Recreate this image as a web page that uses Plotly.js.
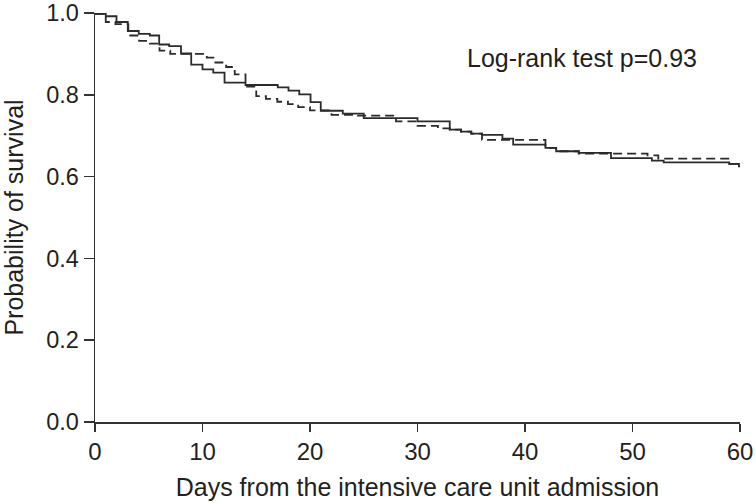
<!DOCTYPE html>
<html>
<head>
<meta charset="utf-8">
<script src="https://cdn.plot.ly/plotly-3.0.1.min.js"></script>
<style>html,body{margin:0;padding:0;background:#fff;}#chart{width:756px;height:503px;}</style>
</head>
<body>
<div id="chart"></div>
<script>
// Group A (solid line): step times (days) and survival probability
const solidDays = [0, 1.0, 2.0, 3.05, 4.07, 5.1, 5.97, 6.9, 8.0, 8.95, 10.0, 11.0, 12.05, 14.0, 17.0, 18.0, 19.0, 20.05, 21.0, 23.05, 25.0, 30.0, 33.0, 34.05, 35.0, 36.0, 37.9, 38.9, 41.9, 42.9, 45.0, 48.0, 51.8, 52.9, 59.0, 59.9, 60];
const solidSurv = [0.998, 0.992, 0.978, 0.956, 0.949, 0.945, 0.923, 0.919, 0.901, 0.874, 0.862, 0.854, 0.830, 0.824, 0.818, 0.810, 0.801, 0.782, 0.761, 0.754, 0.743, 0.735, 0.715, 0.710, 0.705, 0.702, 0.693, 0.678, 0.670, 0.662, 0.658, 0.645, 0.639, 0.635, 0.631, 0.625, 0.625];

// Group B (dashed line)
const dashDays = [0, 1.0, 1.9, 3.1, 4.1, 5.1, 6.0, 7.0, 10.4, 11.2, 12.2, 13.0, 14.0, 15.0, 15.9, 16.96, 17.95, 18.9, 20.0, 22.0, 24.1, 28.0, 30.0, 31.9, 33.0, 34.05, 35.0, 36.0, 41.9, 42.9, 45.0, 51.4, 52.4, 59.0, 59.9, 60];
const dashSurv = [0.998, 0.978, 0.973, 0.945, 0.932, 0.925, 0.908, 0.900, 0.891, 0.879, 0.868, 0.850, 0.820, 0.797, 0.790, 0.783, 0.777, 0.770, 0.762, 0.751, 0.749, 0.735, 0.724, 0.718, 0.715, 0.710, 0.705, 0.690, 0.670, 0.662, 0.656, 0.652, 0.644, 0.631, 0.625, 0.625];

const xTicks = [0, 10, 20, 30, 40, 50, 60];
const yTicks = [0, 0.2, 0.4, 0.6, 0.8, 1.0];
const yTickText = ['0.0', '0.2', '0.4', '0.6', '0.8', '1.0'];
const annotText = 'Log-rank test p=0.93';
const xTitle = 'Days from the intensive care unit admission';
const yTitle = 'Probability of survival';

const FONT = 'Liberation Sans, Arial, sans-serif';
const INK = '#231f20';

const traces = [
  {x: solidDays, y: solidSurv, mode: 'lines', line: {shape: 'hv', color: '#2b2b2b', width: 1.8}, hoverinfo: 'skip', showlegend: false},
  {x: dashDays, y: dashSurv, mode: 'lines', line: {shape: 'hv', color: '#2b2b2b', width: 1.8, dash: '9px,5px'}, hoverinfo: 'skip', showlegend: false}
];

const layout = {
  width: 756, height: 503,
  margin: {l: 95, r: 16, t: 13, b: 81, pad: 0},
  paper_bgcolor: '#fff', plot_bgcolor: '#fff',
  font: {family: FONT, size: 24, color: INK},
  showlegend: false,
  xaxis: {
    range: [0, 60], tickvals: xTicks, ticks: 'outside', ticklen: 8, tickwidth: 1.5, tickcolor: '#333',
    showline: true, linecolor: '#333', linewidth: 1.5, showgrid: false, zeroline: false,
    tickfont: {family: FONT, size: 24, color: INK}, ticklabeloverflow: 'allow',
    title: {text: xTitle, font: {family: FONT, size: 25, color: INK}, standoff: 14},
    automargin: false, fixedrange: true
  },
  yaxis: {
    range: [0, 1], tickvals: yTicks, ticktext: yTickText, ticks: 'outside', ticklen: 10, tickwidth: 1.5, tickcolor: '#333',
    showline: true, linecolor: '#333', linewidth: 1.5, showgrid: false, zeroline: false,
    tickfont: {family: FONT, size: 23.5, color: INK}, ticklabeloverflow: 'allow',
    title: {text: yTitle, font: {family: FONT, size: 25, color: INK}, standoff: 20},
    automargin: false, fixedrange: true
  },
  annotations: [{
    x: 34.4, y: 0.89, xref: 'x', yref: 'y', xanchor: 'left', yanchor: 'middle',
    text: annotText, showarrow: false, font: {family: FONT, size: 25, color: INK}
  }]
};

Plotly.newPlot('chart', traces, layout, {displayModeBar: false, staticPlot: true});
</script>
</body>
</html>
